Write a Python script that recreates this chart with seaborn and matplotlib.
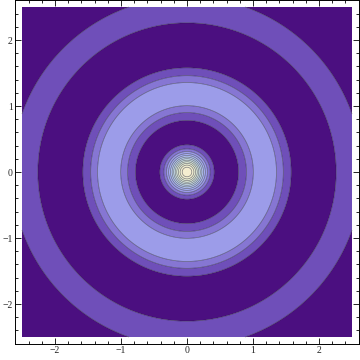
import numpy as np
import matplotlib
matplotlib.use("Agg")
import matplotlib.pyplot as plt
import seaborn as sns
from matplotlib.colors import ListedColormap, BoundaryNorm

# --- data -----------------------------------------------------------------
# radial profile: central peak + two rings (centre radius, amplitude, width)
peak_height = 1.3
peak_width = 0.256
ring_radius = [1.18, 2.455]
ring_amp = [0.39, 0.17]
ring_width = [0.342, 0.268]
levels = [-1.0, 0.1, 0.2, 0.3, 0.4, 0.5, 0.6, 0.7, 0.8, 0.9, 1.0, 1.1, 1.2, 2.0]
band_colors = ["#4b0f80", "#6f4fb9", "#8676d3", "#9c9ce9", "#a6aef0",
               "#b2c2f2", "#bdd2f0", "#c9deea", "#d5e6e2", "#e0ebda",
               "#e9edd4", "#f0ecd0", "#f5edd0"]
tick_values = [-2, -1, 0, 1, 2]
tick_labels = ["\u22122", "\u22121", "0", "1", "2"]

sns.set_style("ticks")
plt.rcParams["font.family"] = ["Liberation Serif", "DejaVu Serif"]

x = np.linspace(-2.5, 2.5, 601)
X, Y = np.meshgrid(x, x)
R = np.hypot(X, Y)
Z = peak_height * np.exp(-(R / peak_width) ** 2)
for c, a, w in zip(ring_radius, ring_amp, ring_width):
    Z = Z + a * np.exp(-((R - c) / w) ** 2)

fig = plt.figure(figsize=(3.6, 3.6), dpi=100)
ax = fig.add_axes([15.4 / 360, 16.4 / 360, 343.2 / 360, 343.2 / 360])
cmap = ListedColormap(band_colors)
norm = BoundaryNorm(levels, cmap.N)
ax.contourf(X, Y, Z, levels=levels, cmap=cmap, norm=norm, antialiased=True)
ax.contour(X, Y, Z, levels=levels[1:-1], colors=[(0.1, 0.1, 0.15, 0.55)],
           linewidths=0.5)

ax.set_xlim(-2.6, 2.6)
ax.set_ylim(-2.6, 2.6)
ax.set_aspect("auto")
ax.set_xticks(tick_values)
ax.set_xticklabels(tick_labels)
ax.set_yticks(tick_values)
ax.set_yticklabels(tick_labels)
ax.set_xticks(np.arange(-2.4, 2.41, 0.2), minor=True)
ax.set_yticks(np.arange(-2.4, 2.41, 0.2), minor=True)
ax.tick_params(which="both", direction="in", top=True, right=True,
               color="black", width=0.6, labelsize=7, pad=2)
ax.tick_params(which="major", length=4)
ax.tick_params(which="minor", length=2)
for s in ax.spines.values():
    s.set_linewidth(0.7)
    s.set_color("black")

fig.savefig("out.png", dpi=100, facecolor="white")
